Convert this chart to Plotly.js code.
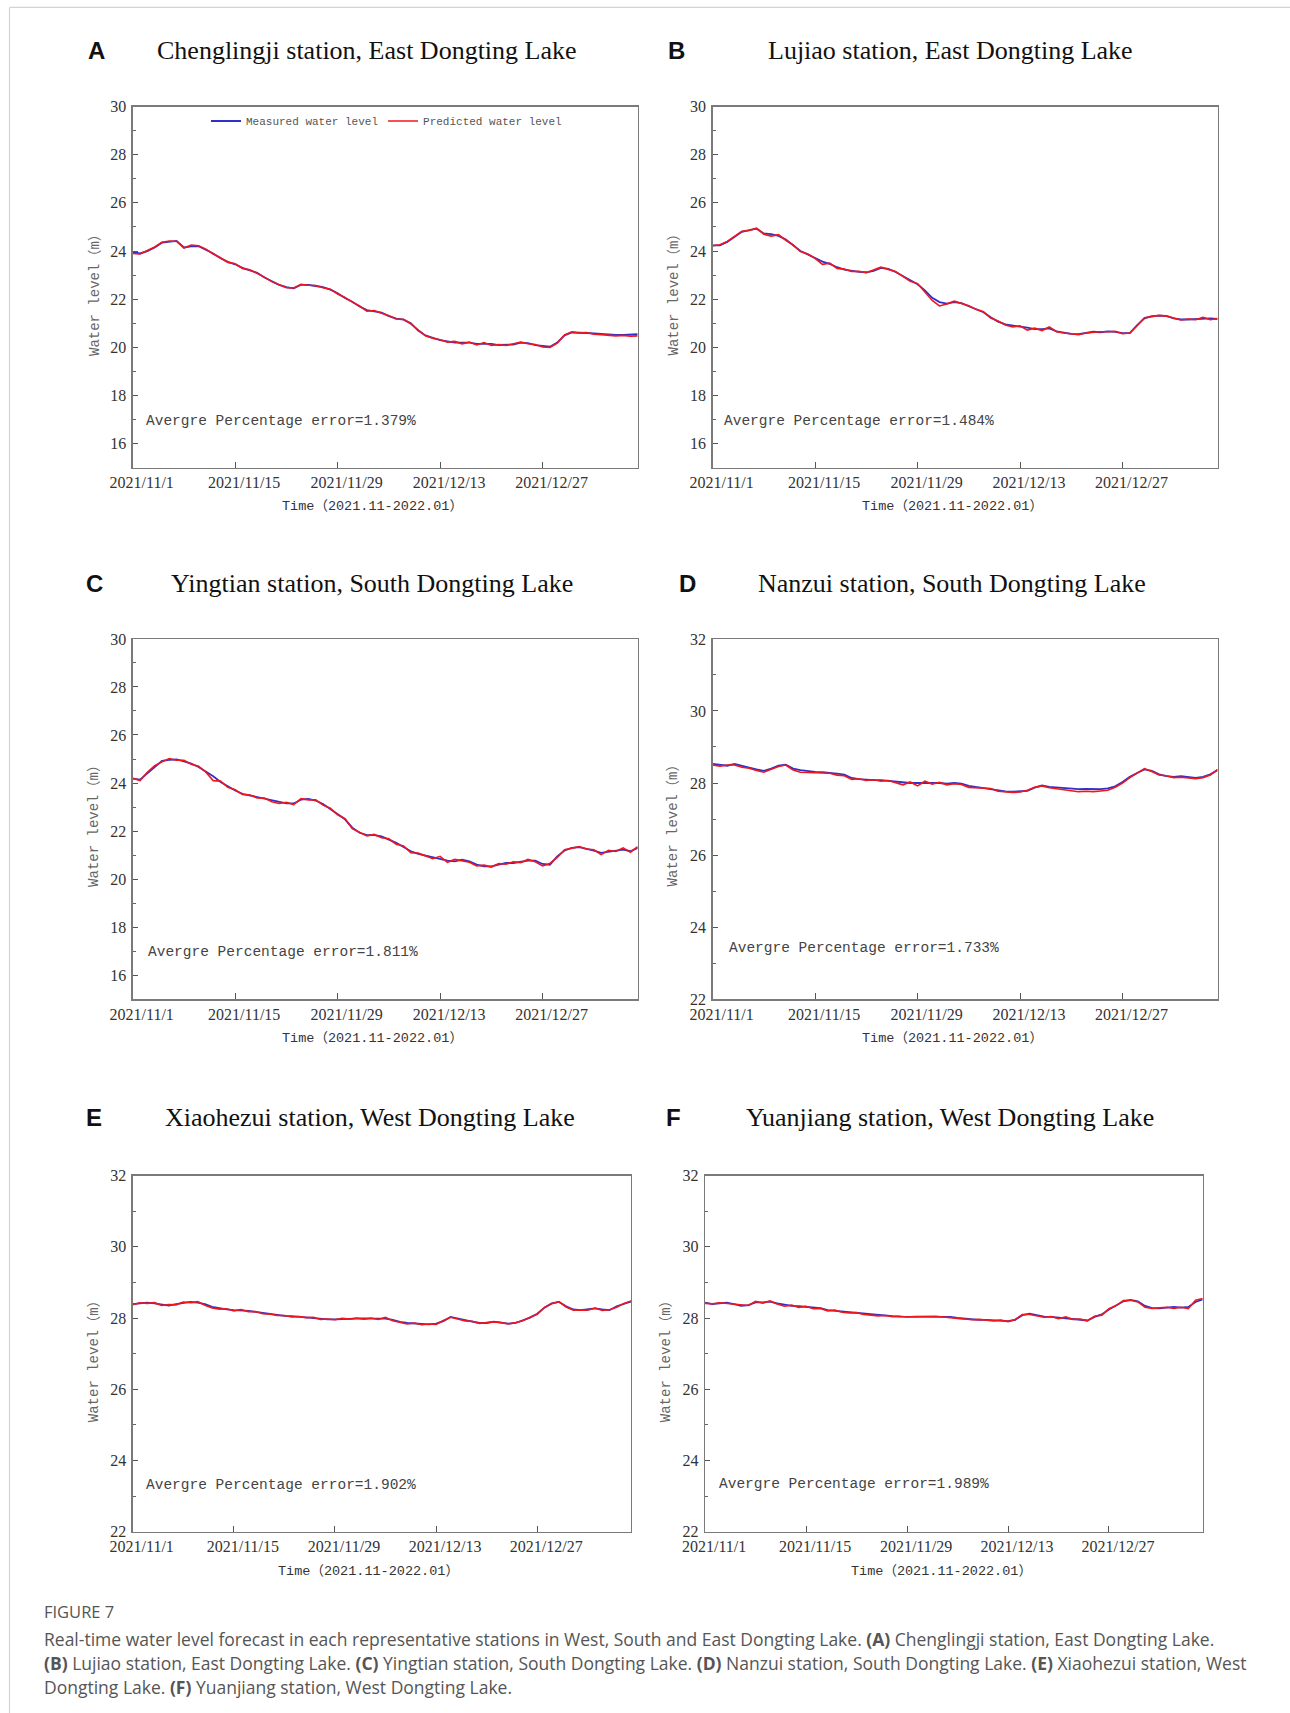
<!DOCTYPE html>
<html><head><meta charset="utf-8">
<script src="https://cdn.plot.ly/plotly-3.0.1.min.js"></script>
<style>html,body{margin:0;padding:0;background:#fff;} #chart{width:1290px;height:1713px;}</style>
</head><body><div id="chart"></div>
<script>
// ---- time index (daily, from 2021-11-01) ----
const START_DATE = '2021-11-01';
const N_DAYS = 70;
const tickDates = ['2021-11-01','2021-11-15','2021-11-29','2021-12-13','2021-12-27'];
const tickLabels = ['2021/11/1','2021/11/15','2021/11/29','2021/12/13','2021/12/27'];

// ---- panel texts ----
const panelLetters = ['A','B','C','D','E','F'];
const panelTitles = [
  'Chenglingji station, East Dongting Lake',
  'Lujiao station, East Dongting Lake',
  'Yingtian station, South Dongting Lake',
  'Nanzui station, South Dongting Lake',
  'Xiaohezui station, West Dongting Lake',
  'Yuanjiang station, West Dongting Lake'
];
const errorTexts = ['1.379%','1.484%','1.811%','1.733%','1.902%','1.989%'];
const yRanges = [[15,30],[15,30],[15,30],[22,32],[22,32],[22,32]];
const seriesNames = ['Measured water level','Predicted water level'];

// ---- water levels (m), one value per day ----
const A_measured = [23.95,23.9,24.0,24.15,24.35,24.4,24.42,24.15,24.2,24.2,24.05,23.9,23.7,23.55,23.45,23.3,23.2,23.1,22.9,22.75,22.6,22.5,22.45,22.6,22.6,22.55,22.5,22.4,22.25,22.05,21.9,21.7,21.55,21.5,21.45,21.3,21.2,21.15,21.0,20.7,20.5,20.4,20.3,20.25,20.2,20.2,20.2,20.15,20.15,20.15,20.1,20.1,20.12,20.2,20.18,20.1,20.05,20.03,20.2,20.5,20.62,20.62,20.6,20.58,20.55,20.52,20.52,20.52,20.52,20.55];
const A_predicted = [23.9,23.88,24.02,24.17,24.37,24.42,24.4,24.12,24.25,24.22,24.08,23.88,23.72,23.53,23.47,23.28,23.22,23.08,22.92,22.73,22.62,22.48,22.47,22.62,22.58,22.57,22.48,22.42,22.22,22.07,21.88,21.72,21.5,21.53,21.42,21.32,21.18,21.17,20.98,20.72,20.48,20.38,20.32,20.22,20.25,20.15,20.22,20.1,20.2,20.08,20.12,20.08,20.15,20.22,20.15,20.12,20.02,20.0,20.18,20.52,20.65,20.6,20.62,20.55,20.53,20.5,20.48,20.5,20.47,20.48];
const B_measured = [24.24,24.24,24.38,24.6,24.8,24.87,24.93,24.73,24.7,24.63,24.48,24.24,24.0,23.86,23.72,23.56,23.47,23.33,23.23,23.18,23.14,23.12,23.18,23.3,23.26,23.13,22.97,22.8,22.62,22.37,22.06,21.88,21.82,21.88,21.84,21.71,21.6,21.46,21.25,21.07,20.96,20.9,20.86,20.82,20.76,20.76,20.79,20.67,20.62,20.56,20.55,20.59,20.65,20.63,20.67,20.65,20.59,20.59,20.93,21.21,21.3,21.32,21.31,21.21,21.16,21.16,21.17,21.2,21.21,21.18];
const B_predicted = [24.22,24.26,24.4,24.62,24.82,24.85,24.95,24.7,24.62,24.68,24.45,24.26,23.98,23.88,23.7,23.45,23.5,23.28,23.25,23.15,23.16,23.1,23.2,23.33,23.24,23.15,22.95,22.75,22.65,22.3,21.95,21.72,21.8,21.92,21.82,21.73,21.58,21.48,21.22,21.1,20.93,20.85,20.9,20.72,20.8,20.7,20.85,20.65,20.6,20.58,20.53,20.6,20.63,20.65,20.65,20.67,20.57,20.6,20.9,21.23,21.28,21.33,21.3,21.22,21.14,21.18,21.15,21.25,21.15,21.2];
const C_measured = [24.18,24.14,24.4,24.68,24.92,24.96,24.98,24.9,24.81,24.67,24.49,24.28,24.04,23.86,23.69,23.55,23.48,23.41,23.34,23.27,23.2,23.15,23.15,23.31,23.34,23.27,23.13,22.92,22.73,22.49,22.14,21.93,21.83,21.83,21.78,21.65,21.51,21.34,21.16,21.05,20.98,20.91,20.81,20.77,20.74,20.81,20.74,20.6,20.53,20.53,20.6,20.67,20.67,20.72,20.77,20.77,20.63,20.6,20.95,21.19,21.3,21.33,21.27,21.19,21.09,21.14,21.19,21.23,21.16,21.3];
const C_predicted = [24.2,24.1,24.45,24.72,24.88,25.02,24.95,24.95,24.78,24.7,24.45,24.1,24.08,23.82,23.72,23.52,23.5,23.38,23.37,23.22,23.15,23.2,23.1,23.35,23.3,23.3,23.08,22.95,22.68,22.52,22.1,21.96,21.8,21.86,21.72,21.68,21.45,21.38,21.1,21.08,20.95,20.85,20.95,20.7,20.82,20.75,20.7,20.55,20.58,20.5,20.65,20.62,20.72,20.68,20.82,20.72,20.55,20.65,20.9,21.22,21.27,21.35,21.25,21.22,21.02,21.2,21.15,21.3,21.12,21.35];
const D_measured = [28.53,28.5,28.48,28.53,28.47,28.43,28.38,28.34,28.4,28.48,28.51,28.4,28.36,28.33,28.31,28.3,28.29,28.26,28.23,28.14,28.11,28.09,28.08,28.08,28.06,28.03,28.0,28.0,28.0,27.99,28.0,28.0,27.98,28.0,27.98,27.92,27.89,27.87,27.84,27.79,27.77,27.76,27.76,27.78,27.87,27.93,27.89,27.87,27.86,27.84,27.83,27.84,27.83,27.83,27.85,27.91,28.03,28.17,28.28,28.38,28.34,28.24,28.19,28.17,28.19,28.17,28.14,28.17,28.24,28.36];
const D_predicted = [28.5,28.47,28.5,28.5,28.44,28.41,28.35,28.3,28.38,28.46,28.5,28.36,28.3,28.3,28.28,28.28,28.27,28.22,28.2,28.1,28.12,28.07,28.09,28.05,28.07,28.0,27.95,28.03,27.92,28.05,27.97,28.02,27.95,27.98,27.96,27.88,27.87,27.85,27.85,27.77,27.75,27.74,27.75,27.8,27.88,27.92,27.87,27.84,27.82,27.78,27.76,27.77,27.76,27.78,27.8,27.88,28.0,28.15,28.27,28.4,28.32,28.22,28.2,28.15,28.16,28.14,28.12,28.15,28.22,28.38];
const E_measured = [28.39,28.41,28.43,28.41,28.37,28.35,28.39,28.43,28.45,28.43,28.39,28.31,28.27,28.24,28.22,28.22,28.2,28.17,28.14,28.1,28.09,28.06,28.05,28.03,28.03,28.01,27.98,27.96,27.96,27.97,27.98,27.98,27.99,27.98,27.98,27.98,27.95,27.89,27.86,27.85,27.84,27.82,27.84,27.91,28.03,27.98,27.93,27.9,27.86,27.86,27.9,27.86,27.84,27.86,27.93,28.01,28.12,28.29,28.41,28.45,28.33,28.24,28.22,28.24,28.27,28.24,28.22,28.33,28.39,28.46];
const E_predicted = [28.37,28.43,28.41,28.43,28.35,28.38,28.37,28.45,28.43,28.46,28.36,28.28,28.25,28.26,28.2,28.24,28.18,28.18,28.12,28.11,28.07,28.07,28.03,28.04,28.01,28.02,27.96,27.97,27.95,27.99,27.97,28.0,27.97,28.0,27.96,28.02,27.92,27.87,27.83,27.86,27.81,27.83,27.82,27.93,28.02,27.97,27.92,27.91,27.85,27.87,27.89,27.87,27.83,27.87,27.92,28.02,28.1,28.3,28.4,28.46,28.31,28.22,28.23,28.22,28.28,28.21,28.23,28.3,28.41,28.48];
const F_measured = [28.43,28.39,28.41,28.43,28.39,28.34,28.36,28.44,28.44,28.46,28.41,28.37,28.34,28.33,28.31,28.29,28.28,28.22,28.2,28.18,28.15,28.14,28.12,28.1,28.07,28.06,28.05,28.04,28.04,28.03,28.04,28.04,28.04,28.04,28.03,28.0,27.98,27.96,27.95,27.95,27.93,27.93,27.91,27.95,28.08,28.12,28.07,28.04,28.03,28.01,28.01,27.98,27.95,27.93,28.03,28.1,28.24,28.36,28.47,28.51,28.47,28.34,28.28,28.27,28.29,28.31,28.29,28.31,28.45,28.52];
const F_predicted = [28.41,28.4,28.43,28.41,28.38,28.36,28.35,28.47,28.42,28.48,28.39,28.33,28.36,28.3,28.33,28.26,28.27,28.2,28.22,28.16,28.14,28.15,28.1,28.08,28.06,28.07,28.04,28.05,28.03,28.04,28.05,28.04,28.05,28.03,28.02,27.99,27.97,27.95,27.96,27.94,27.92,27.94,27.9,27.96,28.1,28.1,28.05,28.02,28.04,27.98,28.03,27.96,27.97,27.92,28.05,28.08,28.26,28.35,28.49,28.5,28.45,28.3,28.27,28.28,28.3,28.27,28.3,28.26,28.5,28.55];

const measuredSeries = [A_measured,B_measured,C_measured,D_measured,E_measured,F_measured];
const predictedSeries = [A_predicted,B_predicted,C_predicted,D_predicted,E_predicted,F_predicted];

// ---- build date index ----
const dates = [];
(function(){
  const d0 = new Date(START_DATE + 'T00:00:00Z');
  for (let i = 0; i < N_DAYS; i++) {
    const d = new Date(d0.getTime() + i*86400000);
    dates.push(d.toISOString().slice(0,10));
  }
})();

// ---- layout geometry (pixels in a 1290x1713 page) ----
const W = 1290, H = 1713;
const px = v => v / W;
const py = v => 1 - v / H;
const plotBoxes = [ // [left, right, top, bottom]
  [132.7, 637.6, 106.5, 467.9],
  [712.6, 1217.5, 106.5, 467.9],
  [132.7, 637.6, 638.9, 999.2],
  [712.6, 1217.5, 638.9, 999.2],
  [132.7, 631.0, 1175.6, 1531.6],
  [705.1, 1202.6, 1175.6, 1531.6]
];
const letterPos = [[96.6,51],[676.5,51],[94.5,584],[687.7,584],[93.7,1117.5],[673.2,1117.5]];
const titlePos = [[366.5,51],[951,51],[371.5,584],[951.5,584],[370,1117.5],[949.5,1117.5]];
const yTitlePos = [[94.5,291.5],[673,291.5],[94.5,822.4],[673,822.4],[93.7,1357.5],[665.7,1357.5]];
const xTitlePos = [[372,507],[952.5,507],[372,1038.8],[952.5,1038.8],[369,1571],[941,1571]];
const errPos = [[144.3,421],[722,421],[146,952],[727,948],[144.3,1485.3],[716.7,1484.3]];

const BLUE = '#3030c8', RED = '#f0161c';
const TICK_FONT = {family:'"Liberation Serif", serif', size:16, color:'#333'};
const MONO = '"Liberation Mono", "Noto Sans CJK SC", monospace';

const traces = [];
const layout = {
  width: W, height: H,
  margin: {l:0, r:0, t:0, b:0},
  paper_bgcolor: '#fff', plot_bgcolor: '#fff',
  showlegend: true,
  legend: {orientation:'h', x: px(206), y: py(121), xanchor:'left', yanchor:'middle',
           font:{family: MONO, size:11, color:'#555'}, bgcolor:'rgba(0,0,0,0)', itemwidth:30, tracegroupgap:0},
  annotations: [],
  shapes: [
    {type:'line', xref:'paper', yref:'paper', x0:px(9.5), x1:1, y0:py(7.4), y1:py(7.4), line:{color:'#d4d4d4', width:1.2}},
    {type:'line', xref:'paper', yref:'paper', x0:px(9.5), x1:px(9.5), y0:py(7.4), y1:0, line:{color:'#d4d4d4', width:1.2}}
  ]
};

for (let i = 0; i < 6; i++) {
  const n = i === 0 ? '' : String(i+1);
  const [l, r, t, b] = plotBoxes[i];
  layout['xaxis'+n] = {
    domain: [px(l), px(r)], anchor: 'y'+n, type: 'date',
    range: ['2021-11-01 00:00', '2022-01-08 23:30'],
    tickmode: 'array', tickvals: tickDates, ticktext: tickLabels,
    ticks: 'inside', ticklen: 6, tickwidth: 1, tickcolor: '#555',
    showline: true, mirror: true, linecolor: '#7a7a7a', linewidth: 1.3,
    showgrid: false, zeroline: false, tickfont: TICK_FONT,
    ticklabelshift: 9, ticklabelstandoff: 0, fixedrange: true
  };
  layout['yaxis'+n] = {
    domain: [py(b), py(t)], anchor: 'x'+n,
    range: yRanges[i], tick0: 0, dtick: 2,
    ticks: 'inside', ticklen: 5, tickwidth: 1, tickcolor: '#555',
    minor: {dtick: 1, tick0: 0, ticks: 'inside', ticklen: 3, tickcolor: '#666', tickwidth: 1},
    showline: true, mirror: true, linecolor: '#7a7a7a', linewidth: 1.3,
    showgrid: false, zeroline: false, tickfont: TICK_FONT,
    ticklabelstandoff: 2, fixedrange: true
  };
  traces.push({
    type:'scatter', mode:'lines', x: dates, y: measuredSeries[i],
    xaxis:'x'+n, yaxis:'y'+n, name: seriesNames[0],
    line:{color: BLUE, width:1.8}, showlegend: i === 0
  });
  traces.push({
    type:'scatter', mode:'lines', x: dates, y: predictedSeries[i],
    xaxis:'x'+n, yaxis:'y'+n, name: seriesNames[1],
    line:{color: RED, width:1.6}, showlegend: i === 0
  });

  const A = layout.annotations;
  A.push({xref:'paper', yref:'paper', x:px(letterPos[i][0]), y:py(letterPos[i][1]), xanchor:'center', yanchor:'middle',
          text:'<b>'+panelLetters[i]+'</b>', showarrow:false, font:{family:'"Liberation Sans", Arial, sans-serif', size:24, color:'#111'}});
  A.push({xref:'paper', yref:'paper', x:px(titlePos[i][0]), y:py(titlePos[i][1]), xanchor:'center', yanchor:'middle',
          text: panelTitles[i], showarrow:false, font:{family:'"Liberation Serif", "Times New Roman", serif', size:26, color:'#111'}});
  A.push({xref:'paper', yref:'paper', x:px(yTitlePos[i][0]), y:py(yTitlePos[i][1]), xanchor:'center', yanchor:'middle',
          text:'Water level（m）', textangle:-90, showarrow:false, font:{family: MONO, size:14, color:'#666'}});
  A.push({xref:'paper', yref:'paper', x:px(xTitlePos[i][0]), y:py(xTitlePos[i][1]), xanchor:'center', yanchor:'middle',
          text:'Time（2021.11-2022.01）', showarrow:false, font:{family: MONO, size:13.5, color:'#333'}});
  A.push({xref:'paper', yref:'paper', x:px(errPos[i][0]), y:py(errPos[i][1]), xanchor:'left', yanchor:'middle',
          text:'Avergre Percentage error=' + errorTexts[i], showarrow:false, font:{family: MONO, size:14.5, color:'#444'}});
}

// ---- caption ----
const captionHead = 'FIGURE 7';
const captionLines = [
  'Real-time water level forecast in each representative stations in West, South and East Dongting Lake. <b>(A)</b> Chenglingji station, East Dongting Lake.',
  '<b>(B)</b> Lujiao station, East Dongting Lake. <b>(C)</b> Yingtian station, South Dongting Lake. <b>(D)</b> Nanzui station, South Dongting Lake. <b>(E)</b> Xiaohezui station, West',
  'Dongting Lake. <b>(F)</b> Yuanjiang station, West Dongting Lake.'
];
const CAP_FONT = {family:'"Open Sans", sans-serif', size:17.5, color:'#555'};
layout.annotations.push({xref:'paper', yref:'paper', x:px(41.5), y:py(1611), xanchor:'left', yanchor:'middle',
  text: captionHead, showarrow:false, font: {family:'"Open Sans", sans-serif', size:16.5, color:'#555'}});
const capY = [1638.5, 1662.5, 1686.5];
captionLines.forEach((t, k) => {
  layout.annotations.push({xref:'paper', yref:'paper', x:px(41.5), y:py(capY[k]), xanchor:'left', yanchor:'middle',
    text: t, showarrow:false, font: CAP_FONT});
});

Plotly.newPlot('chart', traces, layout, {staticPlot:true, displayModeBar:false});
</script>
</body></html>
